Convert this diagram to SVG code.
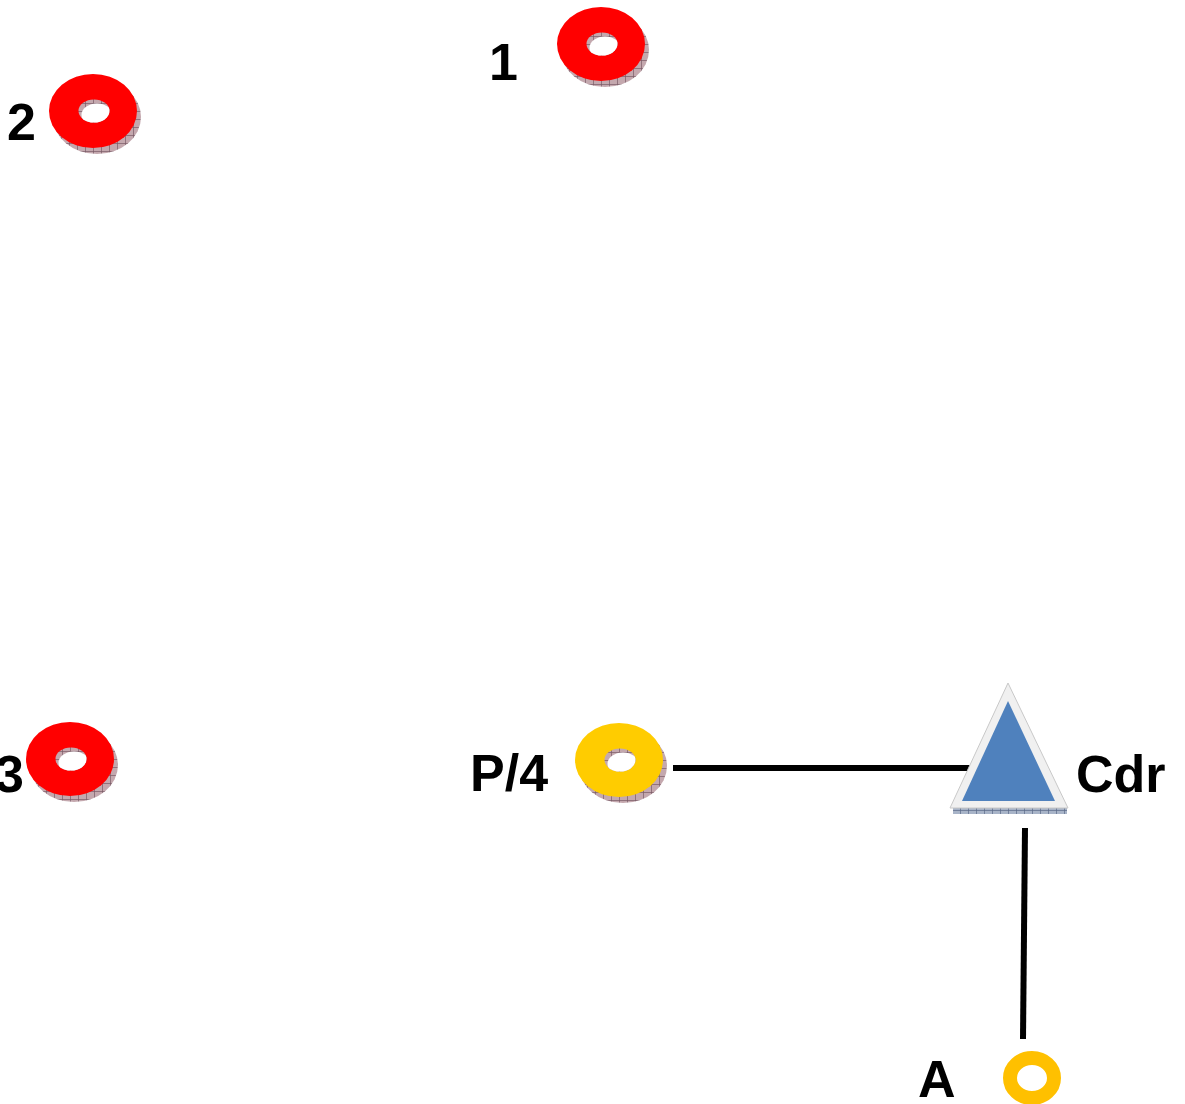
<svg xmlns="http://www.w3.org/2000/svg" xmlns:xlink="http://www.w3.org/1999/xlink" width="1185" height="1104" viewBox="0 0 1185 1104">
<style>
.lbl{font-family:"Liberation Sans",Arial,sans-serif;font-weight:bold;font-size:52px;fill:#000}
.conn{stroke:#000;stroke-width:6;fill:none}
</style>
<defs>
<pattern id="hatch" width="8" height="8" patternUnits="userSpaceOnUse">
<rect width="8" height="8" fill="#c4a8ae"/>
<path d="M0 0.5H8M0.5 0V8" stroke="#7a5a66" stroke-width="0.7"/>
</pattern>
<pattern id="hatchBlue" width="8" height="6" patternUnits="userSpaceOnUse">
<rect width="8" height="6" fill="#a8b4c8"/>
<path d="M0 0.5H8M0.5 0V6" stroke="#5a6a88" stroke-width="0.7"/>
</pattern>
<clipPath id="holeClip"><ellipse cx="1" cy="0" rx="15.5" ry="11.5"/></clipPath>
<symbol id="washer" overflow="visible">
<ellipse cx="4" cy="6" rx="44" ry="37" fill="url(#hatch)"/>
<ellipse cx="0" cy="0" rx="44" ry="37" fill="currentColor"/>
<ellipse cx="1" cy="0" rx="15.5" ry="11.5" fill="url(#hatch)"/>
<ellipse cx="4" cy="4" rx="15.5" ry="11.5" fill="#fff" clip-path="url(#holeClip)"/>
</symbol>
</defs>
<rect width="1185" height="1104" fill="#fff"/>
<g id="connectors">
<line class="conn" x1="673" y1="768" x2="977" y2="768"/>
<line class="conn" x1="1025" y1="828" x2="1023" y2="1039"/>
</g>
<g id="node-1">
<use xlink:href="#washer" x="601" y="44" style="color:#ff0000"/>
<text class="lbl" x="489" y="80">1</text>
</g>
<g id="node-2">
<use xlink:href="#washer" x="93" y="111" style="color:#ff0000"/>
<text class="lbl" x="7" y="140">2</text>
</g>
<g id="node-3">
<use xlink:href="#washer" x="70" y="759" style="color:#ff0000"/>
<text class="lbl" x="-5" y="792">3</text>
</g>
<g id="node-P4">
<use xlink:href="#washer" x="619" y="760" style="color:#ffcc00"/>
<text class="lbl" x="470" y="791">P/4</text>
</g>
<g id="node-Cdr">
<rect x="953" y="808" width="114" height="6" fill="url(#hatchBlue)"/>
<polygon points="1008,683 950,808 1068,808" fill="#f0f0f0" stroke="#c8c8c8" stroke-width="1"/>
<polygon points="1008,701 962,801 1055,801" fill="#4f81bd"/>
<text class="lbl" x="1076" y="792">Cdr</text>
</g>
<g id="node-A">
<ellipse cx="1032" cy="1078" rx="22" ry="20" fill="none" stroke="#ffc000" stroke-width="14"/>
<text class="lbl" x="918" y="1097">A</text>
</g>
</svg>
